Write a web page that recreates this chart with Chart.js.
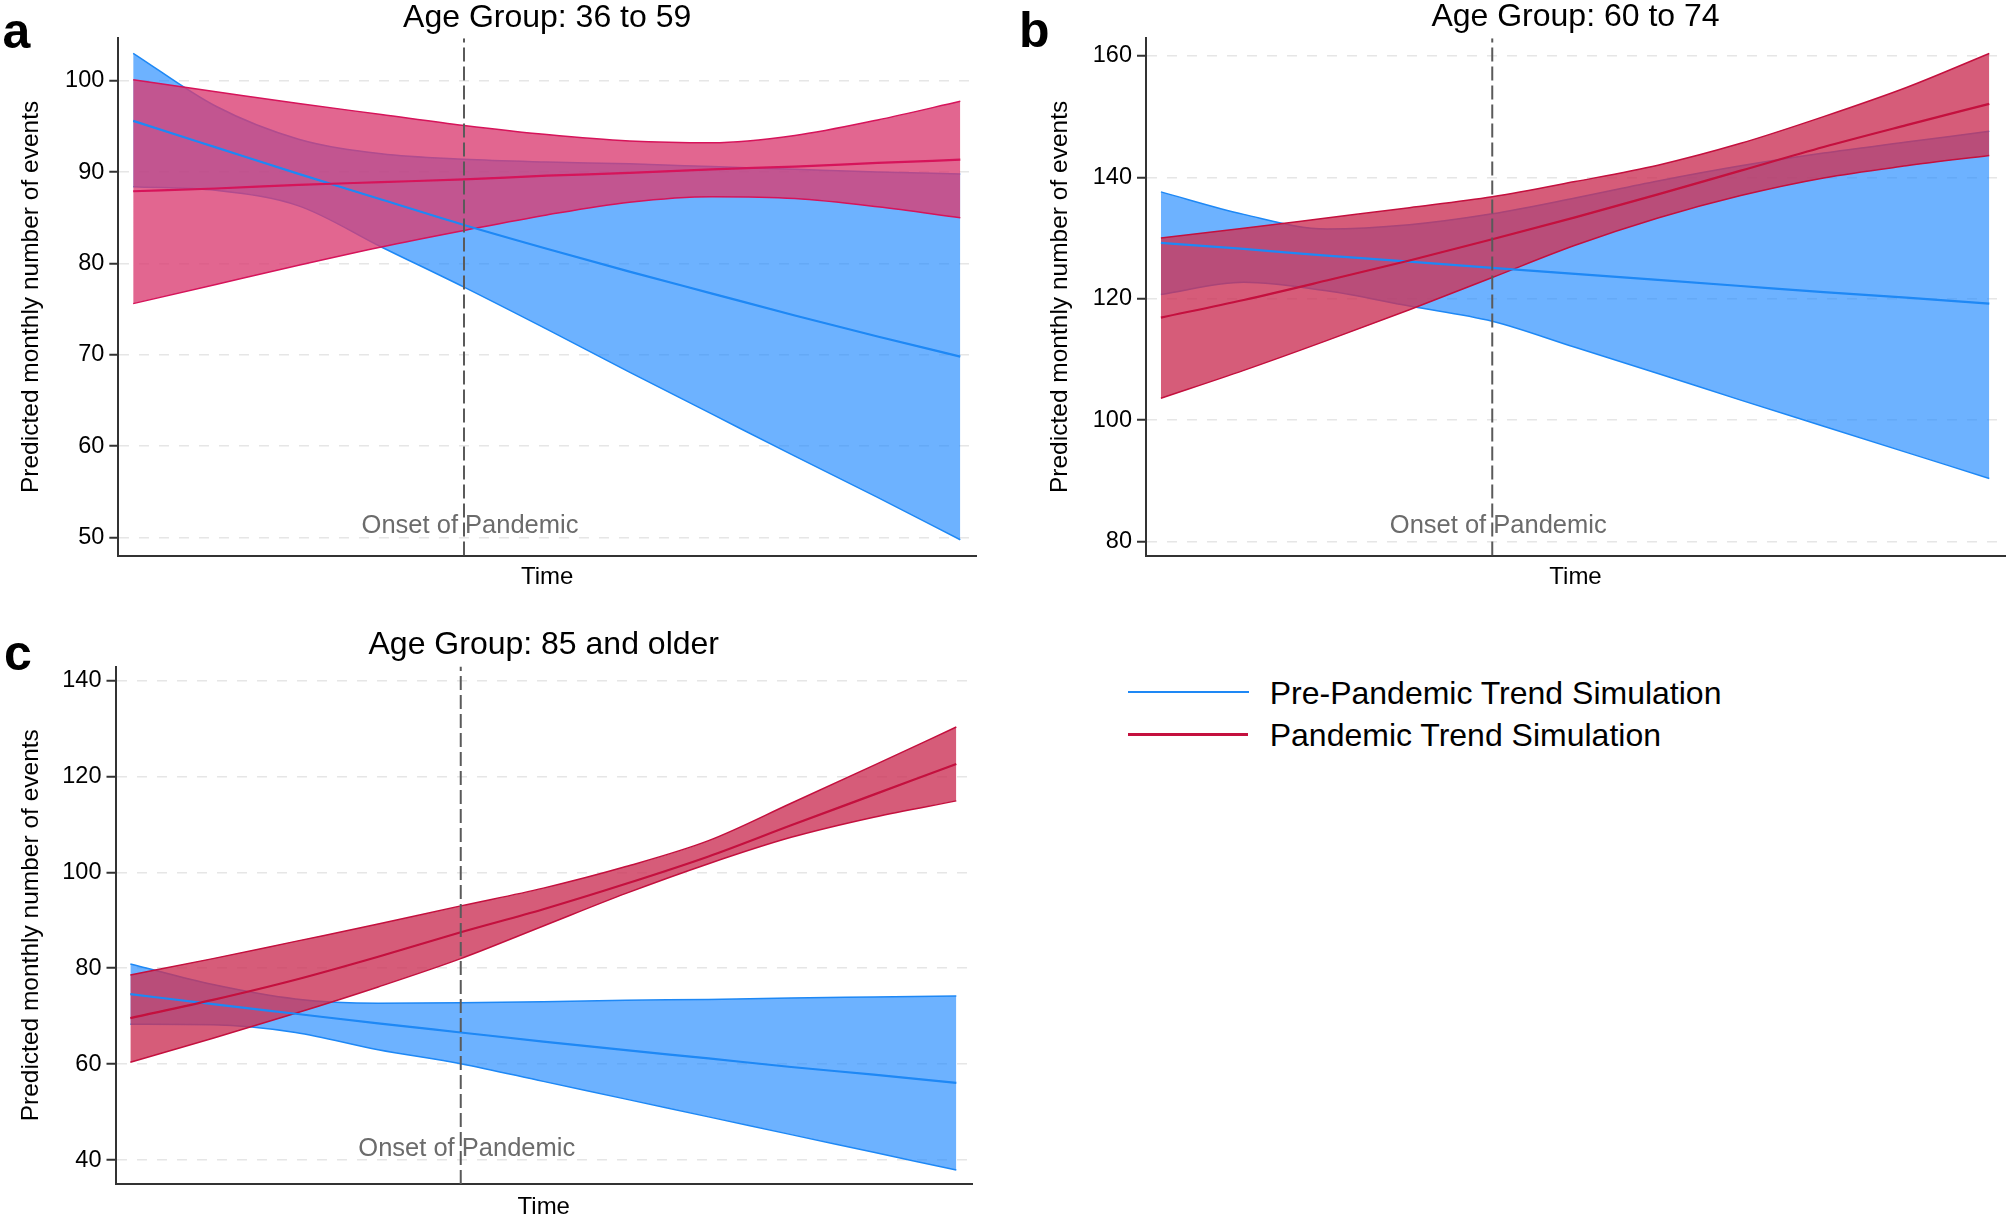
<!DOCTYPE html>
<html>
<head>
<meta charset="utf-8">
<script src="https://cdn.jsdelivr.net/npm/chart.js@4.4.1/dist/chart.umd.min.js"></script>
<style>
  html, body { margin:0; padding:0; background:#fff; overflow:hidden; width:2007px; height:1217px; }
  canvas { position:absolute; }
  #cA { left:0; top:0; }
  #cB { left:1000px; top:0; }
  #cC { left:0; top:600px; }
  .leg-line { position:absolute; height:2.5px; }
  .leg-text { position:absolute; font-family:"Liberation Sans", Arial, Helvetica, sans-serif; font-size:32px; line-height:32px; color:#000; white-space:nowrap; }
</style>
</head>
<body>
<canvas id="cA" width="990" height="600"></canvas>
<canvas id="cB" width="1007" height="600"></canvas>
<canvas id="cC" width="990" height="627"></canvas>

<div class="leg-line" style="left:1128px; top:690.5px; width:121px; background:#1E88F5;"></div>
<div class="leg-text" style="left:1269.7px; top:677px;">Pre-Pandemic Trend Simulation</div>
<div class="leg-line" style="left:1128px; top:733px; width:120px; background:rgb(196,16,62);"></div>
<div class="leg-text" style="left:1269.7px; top:718.6px;">Pandemic Trend Simulation</div>

<script>
// ---------------- DATA ----------------
const timePoints = [0, 10, 20, 30, 40, 50, 60, 70, 80, 90, 100];
const onsetTime = 40;

// Panel a: Age Group 36 to 59
const a_preMean = [95.6, 92.7, 89.8, 87.0, 84.2, 81.6, 79.1, 76.7, 74.3, 72.0, 69.8];
const a_preLow  = [88.4, 88.0, 86.3, 81.8, 77.4, 72.8, 68.1, 63.5, 58.9, 54.4, 49.75];
const a_preHigh = [103.0, 97.2, 93.6, 92.0, 91.4, 91.1, 90.9, 90.6, 90.3, 90.0, 89.8];
const a_panMean = [87.9, 88.2, 88.6, 88.9, 89.2, 89.6, 89.9, 90.3, 90.6, 91.0, 91.35];
const a_panLow  = [75.6, 77.7, 79.8, 81.8, 83.6, 85.3, 86.7, 87.3, 87.1, 86.2, 85.0];
const a_panHigh = [100.1, 98.8, 97.5, 96.3, 95.1, 94.1, 93.4, 93.2, 94.0, 95.7, 97.75];
const a_yTicks  = [50, 60, 70, 80, 90, 100];
const a_yRange  = [48.03, 104.64];

// Panel b: Age Group 60 to 74
const b_preMean = [129.2, 128.2, 127.1, 126.1, 125.1, 124.1, 123.1, 122.1, 121.1, 120.2, 119.2];
const b_preLow  = [120.7, 122.7, 121.3, 118.8, 116.3, 112.0, 107.7, 103.3, 99.0, 94.7, 90.4];
const b_preHigh = [137.6, 133.9, 131.5, 132.2, 134.0, 136.6, 139.4, 141.9, 144.0, 145.8, 147.6];
const b_panMean = [116.9, 119.8, 123.0, 126.3, 129.8, 133.4, 137.2, 141.1, 145.0, 148.6, 152.1];
const b_panLow  = [103.6, 108.2, 113.1, 118.2, 123.5, 128.8, 133.3, 137.0, 139.9, 141.9, 143.6];
const b_panHigh = [130.0, 131.6, 133.3, 135.0, 136.8, 139.3, 142.0, 145.6, 150.0, 154.8, 160.4];
const b_yTicks  = [80, 100, 120, 140, 160];
const b_yRange  = [77.71, 162.9];

// Panel c: Age Group 85 and older
const c_preMean = [74.6, 72.5, 70.5, 68.5, 66.6, 64.7, 62.9, 61.2, 59.4, 57.8, 56.1];
const c_preLow  = [68.3, 68.2, 66.6, 63.0, 60.1, 56.4, 52.7, 49.0, 45.3, 41.6, 37.9];
const c_preHigh = [80.9, 76.6, 73.6, 72.7, 72.8, 73.0, 73.3, 73.5, 73.8, 74.0, 74.2];
const c_panMean = [69.6, 73.4, 77.6, 82.4, 87.5, 92.3, 97.6, 103.3, 109.8, 116.2, 122.6];
const c_panLow  = [60.4, 65.4, 70.6, 76.1, 82.0, 88.8, 95.6, 101.8, 107.3, 111.5, 114.9];
const c_panHigh = [78.6, 82.0, 85.6, 89.2, 93.0, 96.7, 101.2, 106.6, 114.4, 122.3, 130.3];
const c_yTicks  = [40, 60, 80, 100, 120, 140];
const c_yRange  = [35.0, 142.92];

const seriesNames = ['Pre-Pandemic Trend Simulation', 'Pandemic Trend Simulation'];

// ---------------- STYLE ----------------
const FONT = '"Liberation Sans", Arial, Helvetica, sans-serif';
Chart.defaults.font.family = FONT;
const blueLine = '#1E88F5';
const blueFill = 'rgba(30,136,255,0.65)';

const onsetLabelPlugin = {
  id: 'onsetLabel',
  afterDatasetsDraw(chart, args, opts) {
    const { ctx, chartArea, scales } = chart;
    ctx.save();
    ctx.font = '25.5px ' + FONT;
    ctx.fillStyle = '#6b6b6b';
    ctx.textAlign = 'center';
    ctx.textBaseline = 'middle';
    ctx.fillText(opts.text, scales.x.getPixelForValue(onsetTime) + opts.dx, chartArea.bottom - opts.dy);
    ctx.restore();
  }
};

const letterPlugin = {
  id: 'panelLetter',
  afterDraw(chart, args, opts) {
    const ctx = chart.ctx;
    ctx.save();
    ctx.font = 'bold 50px ' + FONT;
    ctx.fillStyle = '#000';
    ctx.textAlign = 'left';
    ctx.textBaseline = 'alphabetic';
    ctx.fillText(opts.letter, opts.x, opts.y);
    ctx.restore();
  }
};

function pts(arr) { return timePoints.map((t, i) => ({ x: t, y: arr[i] })); }

function panel(id, o) {
  return new Chart(document.getElementById(id), {
    type: 'line',
    data: {
      datasets: [
        { label: 'preHigh', data: pts(o.preHigh), borderColor: blueLine, borderWidth: 1.5, fill: false, order: 5 },
        { label: 'preLow', data: pts(o.preLow), borderColor: blueLine, borderWidth: 1.5, backgroundColor: blueFill, fill: '-1', order: 6 },
        { label: 'panHigh', data: pts(o.panHigh), borderColor: o.redLine, borderWidth: 1.5, fill: false, order: 3 },
        { label: 'panLow', data: pts(o.panLow), borderColor: o.redLine, borderWidth: 1.5, backgroundColor: o.redFill, fill: '-1', order: 4 },
        { label: seriesNames[0], data: pts(o.preMean), borderColor: blueLine, borderWidth: 2.2, fill: false, order: 2 },
        { label: seriesNames[1], data: pts(o.panMean), borderColor: o.redLine, borderWidth: 2.2, fill: false, order: 1 },
        { label: 'Onset of Pandemic', data: [{ x: onsetTime, y: o.yRange[0] }, { x: onsetTime, y: o.yRange[1] }],
          borderColor: '#5a5a5a', borderWidth: 2, borderDash: [14, 5], fill: false, order: 0,
          cubicInterpolationMode: 'default', tension: 0 }
      ]
    },
    options: {
      responsive: false,
      animation: false,
      devicePixelRatio: 1,
      elements: { point: { radius: 0, hoverRadius: 0 }, line: { cubicInterpolationMode: 'monotone' } },
      layout: { padding: { left: 0, right: o.padRight, top: 0, bottom: 0 } },
      plugins: {
        legend: { display: false },
        tooltip: { enabled: false },
        title: { display: true, text: o.title, fullSize: false, color: '#000',
                 font: { size: 32, weight: 'normal', lineHeight: 1 },
                 padding: { top: o.titlePadTop, bottom: o.titlePadBottom } },
        onsetLabel: { text: 'Onset of Pandemic', dx: 6, dy: o.onsetDy },
        panelLetter: { letter: o.letter, x: o.letterX, y: o.letterY }
      },
      scales: {
        x: {
          type: 'linear', min: -1.8, max: 101.9,
          ticks: { display: false },
          grid: { display: false },
          border: { display: true, color: '#333', width: 2 },
          title: { display: true, text: 'Time', color: '#000', font: { size: 24, lineHeight: 1 },
                   padding: { top: 0, bottom: o.timePadBottom } },
          afterFit: (s) => { s.height = o.xAxisHeight; }
        },
        y: {
          type: 'linear', min: o.yRange[0], max: o.yRange[1],
          afterBuildTicks: (s) => { s.ticks = o.yTicks.map(v => ({ value: v })); },
          ticks: { color: '#000', font: { size: 23.5 }, padding: 5 },
          grid: { color: '#e6e6e6', lineWidth: 1.5, drawTicks: true, tickLength: 9, tickColor: '#333', tickWidth: 2 },
          border: { display: true, color: '#333', width: 2, dash: [10, 10] },
          title: { display: true, text: 'Predicted monthly number of events', color: '#000',
                   font: { size: 24.5, lineHeight: 1 }, padding: { top: o.yTitlePad, bottom: 0 } },
          afterFit: (s) => { s.width = o.yAxisWidth; }
        }
      }
    },
    plugins: [onsetLabelPlugin, letterPlugin]
  });
}

panel('cA', {
  title: 'Age Group: 36 to 59', letter: 'a', letterX: 2.5, letterY: 48,
  preMean: a_preMean, preLow: a_preLow, preHigh: a_preHigh,
  panMean: a_panMean, panLow: a_panLow, panHigh: a_panHigh,
  yTicks: a_yTicks, yRange: a_yRange,
  redLine: 'rgb(214,20,90)', redFill: 'rgba(218,59,113,0.78)',
  padRight: 14, yAxisWidth: 118.3, yTitlePad: 19, xAxisHeight: 44.5, timePadBottom: 10.3,
  titlePadTop: 1.7, titlePadBottom: 4.6, onsetDy: 29.5
});

panel('cB', {
  title: 'Age Group: 60 to 74', letter: 'b', letterX: 19, letterY: 47,
  preMean: b_preMean, preLow: b_preLow, preHigh: b_preHigh,
  panMean: b_panMean, panLow: b_panLow, panHigh: b_panHigh,
  yTicks: b_yTicks, yRange: b_yRange,
  redLine: 'rgb(196,16,62)', redFill: 'rgba(204,51,88,0.8)',
  padRight: 2, yAxisWidth: 146, yTitlePad: 48.4, xAxisHeight: 44.5, timePadBottom: 10.3,
  titlePadTop: 1.3, titlePadBottom: 5.0, onsetDy: 29.5
});

panel('cC', {
  title: 'Age Group: 85 and older', letter: 'c', letterX: 4, letterY: 70,
  preMean: c_preMean, preLow: c_preLow, preHigh: c_preHigh,
  panMean: c_panMean, panLow: c_panLow, panHigh: c_panHigh,
  yTicks: c_yTicks, yRange: c_yRange,
  redLine: 'rgb(196,16,62)', redFill: 'rgba(204,51,88,0.8)',
  padRight: 18, yAxisWidth: 115.5, yTitlePad: 19, xAxisHeight: 43, timePadBottom: 8,
  titlePadTop: 29.5, titlePadBottom: 5.0, onsetDy: 35
});
</script>
</body>
</html>
